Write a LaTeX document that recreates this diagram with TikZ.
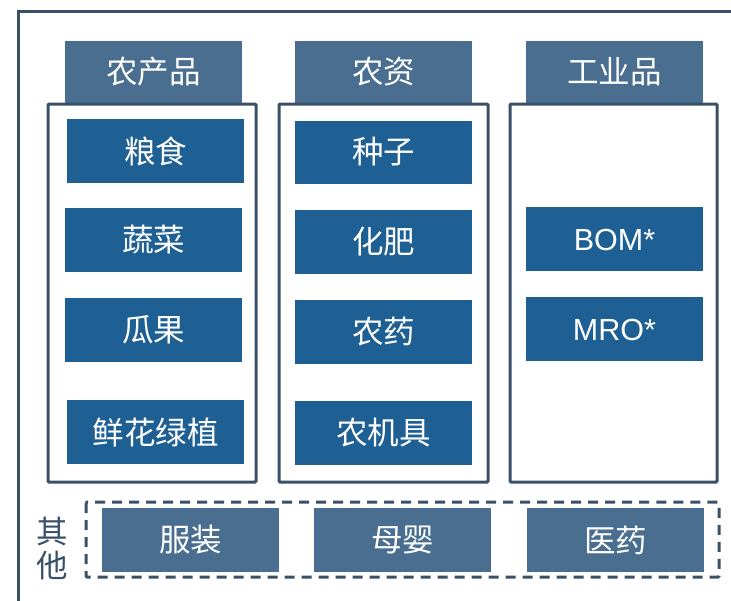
\documentclass[tikz,border=0pt]{standalone}
\usepackage{fontspec}
\setmainfont{Liberation Sans}
\newfontfamily\cjk{Noto Sans CJK SC}
\definecolor{frameC}{HTML}{3A5069}
\definecolor{headC}{HTML}{4A6E8F}
\definecolor{itemC}{HTML}{1F6094}
\begin{document}
\begin{tikzpicture}[x=1pt,y=-1pt,
  frame/.style={draw=frameC,line width=3pt},
  lbl/.style={text=white,inner sep=0pt,font=\cjk\fontsize{31.5}{34}\selectfont},
  lblL/.style={text=white,inner sep=0pt,font=\fontsize{30.5}{33}\selectfont},
  head/.style={fill=headC},
  item/.style={fill=itemC},
  other/.style={fill=headC}]
\useasboundingbox (0,0) rectangle (731,600);
\clip (0,0) rectangle (731,600);
\draw[frame] (18,620) -- (18,11) -- (750,11);
% headers
\path[head] (65,41) rectangle (242,103); \node[lbl] (h1) at (153.5,72) {农产品};
\path[head] (295,41) rectangle (472,103); \node[lbl] (h2) at (383.5,72) {农资};
\path[head] (526,41) rectangle (703,103); \node[lbl] (h3) at (614.5,72) {工业品};
% column frames
\draw[frame,rounded corners=1pt] (48,104) rectangle (256,482);
\draw[frame,rounded corners=1pt] (279,104) rectangle (488,482);
\draw[frame,rounded corners=1pt] (510,104) rectangle (717,482);
% items col1
\path[item] (67,119) rectangle (244,183); \node[lbl] (a1) at (155.5,151) {粮食};
\path[item] (65,208) rectangle (242,272); \node[lbl] (a2) at (153.5,240) {蔬菜};
\path[item] (65,298) rectangle (242,362); \node[lbl] (a3) at (153.5,330) {瓜果};
\path[item] (67,400) rectangle (244,464); \node[lbl] (a4) at (155.5,432) {鲜花绿植};
% items col2
\path[item] (295,121) rectangle (472,184); \node[lbl] (b1) at (383.5,152) {种子};
\path[item] (295,210) rectangle (472,274); \node[lbl] (b2) at (383.5,242) {化肥};
\path[item] (295,300) rectangle (472,364); \node[lbl] (b3) at (383.5,332) {农药};
\path[item] (295,401) rectangle (472,465); \node[lbl] (b4) at (383.5,433) {农机具};
% items col3
\path[item] (526,207) rectangle (703,271); \node[lblL] (c1) at (614.5,240) {BOM*};
\path[item] (526,297) rectangle (703,361); \node[lblL] (c2) at (614.5,330) {MRO*};
% other
\draw[frame,dashed,dash pattern=on 10pt off 7pt,rounded corners=1pt] (86,502) rectangle (719,577);
\path[other] (102,508) rectangle (279,572); \node[lbl] (d1) at (190.5,540) {服装};
\path[other] (314,508) rectangle (491,572); \node[lbl] (d2) at (402.5,540) {母婴};
\path[other] (527,508) rectangle (704,572); \node[lbl] (d3) at (615.5,540) {医药};
\node[lbl,text=frameC,align=center] (q) at (52,549) {其\\他};
\end{tikzpicture}
\end{document}
